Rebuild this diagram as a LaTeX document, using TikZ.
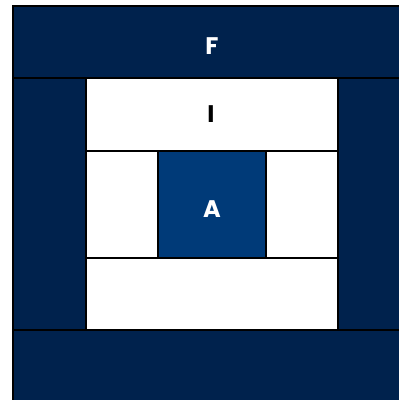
\documentclass[tikz,border=0pt]{standalone}
\usepackage{fontspec}
\setmainfont{Poppins}
\definecolor{navy}{RGB}{0,34,77}
\definecolor{ablue}{RGB}{0,58,120}
\begin{document}
\begin{tikzpicture}[x=1pt,y=-1pt,
  line/.style={draw=black,line width=2pt},
  lbl/.style={text=#1,font=\bfseries\fontsize{24}{24}\selectfont,inner sep=0pt}]
\useasboundingbox (0,0) rectangle (399,400);
\clip (0,0) rectangle (399,400);
% outer frame
\fill[navy] (13,6) rectangle (420,420);
\fill[white] (86,78) rectangle (338,330);
\fill[ablue] (158,151) rectangle (266,258);
\draw[line] (420,6) -- (13,6) -- (13,420);
\draw[line] (13,78) -- (420,78);
\draw[line] (13,330) -- (420,330);
\draw[line] (86,78) -- (86,330);
\draw[line] (338,78) -- (338,330);
\draw[line] (86,151) -- (338,151);
\draw[line] (86,258) -- (338,258);
\draw[line] (158,151) -- (158,258);
\draw[line] (266,151) -- (266,258);
\node[lbl=white] (f) at (212,46) {F};
\node[lbl=black] (i) at (211,114) {I};
\node[lbl=white] (a) at (212,209) {A};
\end{tikzpicture}
\end{document}
